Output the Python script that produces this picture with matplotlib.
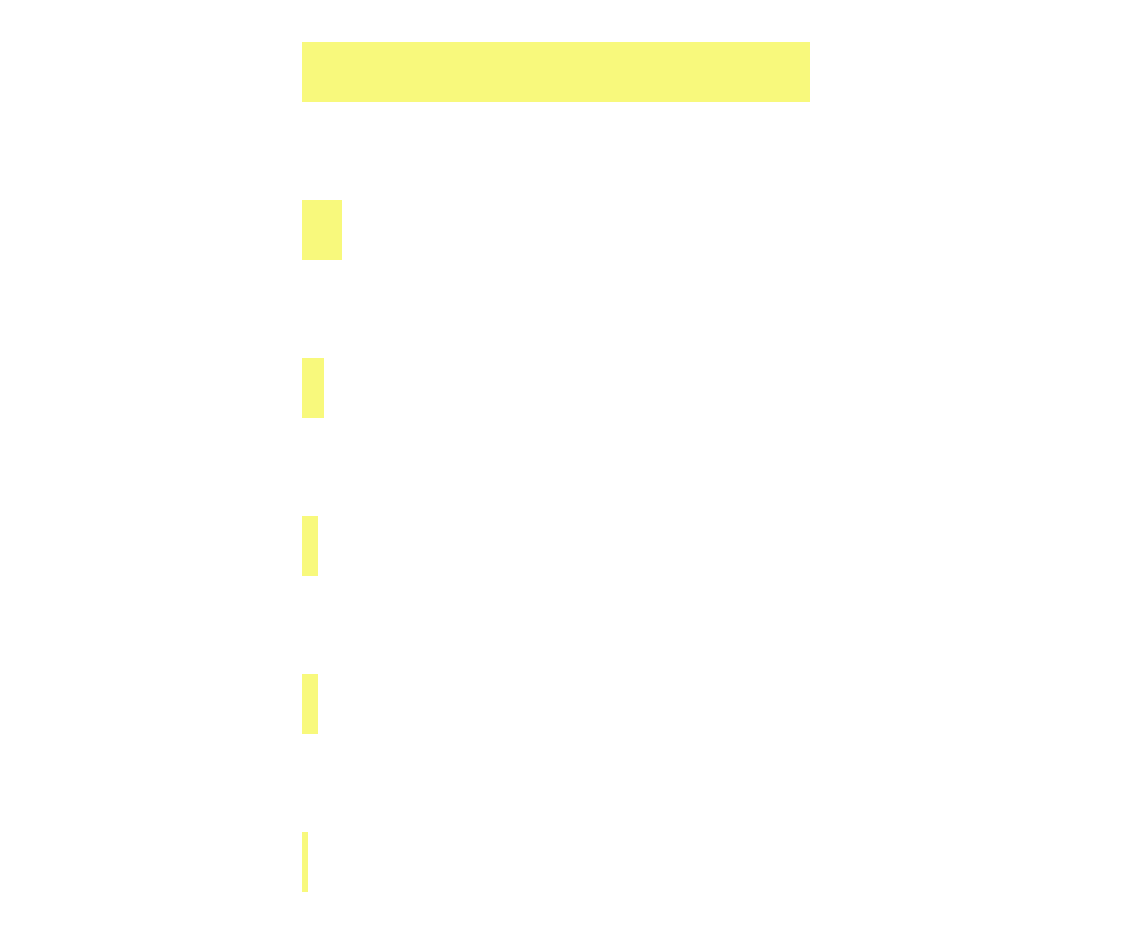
import matplotlib
matplotlib.use('Agg')
import matplotlib.pyplot as plt

# значения столбцов (подписей на картинке нет)
categories = ['A', 'B', 'C', 'D', 'E', 'F']
values = [254, 20, 11, 8, 8, 3]

fig = plt.figure(figsize=(11.26, 9.3), dpi=100)
ax = fig.add_axes([302 / 1126, 38 / 930, 508 / 1126, 850 / 930])

pos = list(range(len(categories)))
ax.barh(pos, values, height=0.38, color='#f8f97c')

ax.set_xlim(0, max(values))
ax.set_ylim(len(categories) - 1 + 0.19, -0.19)
ax.axis('off')

fig.savefig('out.png', dpi=100, facecolor='white')
